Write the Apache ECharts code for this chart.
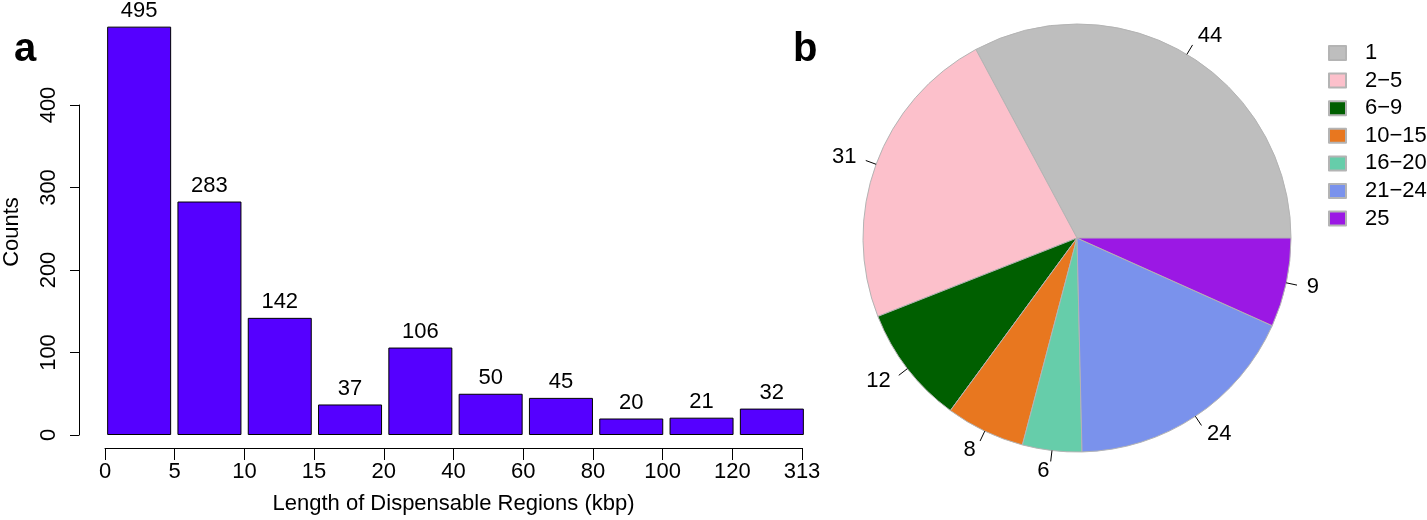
<!DOCTYPE html>
<html>
<head>
<meta charset="utf-8">
<script src="https://cdn.jsdelivr.net/npm/echarts@6/dist/echarts.min.js"></script>
<style>html,body{margin:0;padding:0;background:#fff}#c{width:1427px;height:520px}</style>
</head>
<body>
<div id="c"></div>
<script>
// ---- data ----
var barCategories = ['0-5','5-10','10-15','15-20','20-40','40-60','60-80','80-100','100-120','120-313'];
var barValues = [495, 283, 142, 37, 106, 50, 45, 20, 21, 32];
var xTickLabels = ['0','5','10','15','20','40','60','80','100','120','313'];
var yTicks = [0, 100, 200, 300, 400];
var pieNames = ['1', '2\u22125', '6\u22129', '10\u221215', '16\u221220', '21\u221224', '25'];
var pieValues = [44, 31, 12, 8, 6, 24, 9];
var pieColors = ['#BEBEBE', '#FCC0CB', '#005F00', '#E8771F', '#66CDAA', '#7A92EC', '#9B18E4'];

var FONT = 'Liberation Sans, Arial, Helvetica, sans-serif';
var FS = 22;
var chart = echarts.init(document.getElementById('c'), null, {renderer: 'canvas'});

var pieData = pieNames.map(function (n, i) { return {name: n, value: pieValues[i]}; });

chart.setOption({
  backgroundColor: '#ffffff',
  animation: false,
  textStyle: {fontFamily: FONT, color: '#000'},
  title: [
    {text: 'a', left: 9, top: 25, textStyle: {fontFamily: FONT, fontSize: 40, fontWeight: 'bold', color: '#000'}},
    {text: 'b', left: 788, top: 25, textStyle: {fontFamily: FONT, fontSize: 40, fontWeight: 'bold', color: '#000'}}
  ],
  legend: {
    orient: 'vertical', left: 1323, top: 37,
    itemWidth: 17, itemHeight: 14, itemGap: 5.6,
    icon: 'rect',
    data: pieNames,
    textStyle: {fontFamily: FONT, fontSize: FS, color: '#000', padding: [0, 0, 0, 14]}
  },
  grid: [
    {left: 103, width: 704, top: 105, bottom: 85, containLabel: false},
    {left: 105, width: 697, top: 105, bottom: 85, containLabel: false}
  ],
  xAxis: [
    {type: 'category', gridIndex: 0, data: barCategories, show: false, boundaryGap: true},
    {type: 'value', gridIndex: 1, min: 0, max: xTickLabels.length - 1, interval: 1,
     position: 'bottom', offset: 16,
     axisLine: {show: true, onZero: false, lineStyle: {color: '#000', width: 1}},
     axisTick: {show: true, length: 12, lineStyle: {color: '#000', width: 1}},
     splitLine: {show: false},
     axisLabel: {margin: 13, fontSize: FS, color: '#000', fontFamily: FONT,
       formatter: function (v) { return xTickLabels[Math.round(v)]; }},
     name: 'Length of Dispensable Regions (kbp)', nameLocation: 'middle', nameGap: 45,
     nameTextStyle: {fontSize: FS, color: '#000', fontFamily: FONT}}
  ],
  yAxis: [
    {type: 'value', gridIndex: 0, min: yTicks[0], max: yTicks[yTicks.length - 1], interval: 100,
     offset: 25,
     axisLine: {show: true, onZero: false, lineStyle: {color: '#000', width: 1}},
     axisTick: {show: true, length: 9, lineStyle: {color: '#000', width: 1}},
     splitLine: {show: false},
     axisLabel: {rotate: 90, margin: 19, fontSize: FS, color: '#000', fontFamily: FONT},
     name: 'Counts', nameLocation: 'middle', nameGap: 56,
     nameTextStyle: {fontSize: FS, color: '#000', fontFamily: FONT, padding: [0, 0, 0, 76]}},
    {type: 'value', gridIndex: 1, show: false, min: 0, max: 400}
  ],
  series: [
    {
      type: 'bar', xAxisIndex: 0, yAxisIndex: 0,
      data: barValues, barWidth: 64, clip: false,
      itemStyle: {color: '#5500FF', borderColor: '#000', borderWidth: 1},
      label: {show: true, position: 'top', distance: 5, fontSize: FS, color: '#000', fontFamily: FONT}
    },
    {
      // slices + value labels placed at 1.1 r
      type: 'pie', center: [1077, 238], radius: 214,
      startAngle: 0, clockwise: false, avoidLabelOverlap: false,
      data: pieData,
      color: pieColors,
      itemStyle: {borderColor: '#B4B4B4', borderWidth: 1},
      label: {show: true, position: 'outside', formatter: '{c}', fontSize: FS, color: '#000',
              fontFamily: FONT, distanceToLabelLine: 0},
      labelLine: {show: false, length: 21, length2: 0},
      labelLayout: {hideOverlap: false},
      emphasis: {disabled: true}
    },
    {
      // short tick lines from r to 1.05 r
      type: 'pie', center: [1077, 238], radius: 214, z: 5,
      startAngle: 0, clockwise: false, avoidLabelOverlap: false, silent: true,
      data: pieData,
      color: pieColors,
      itemStyle: {color: 'rgba(0,0,0,0)', borderWidth: 0},
      label: {show: true, position: 'outside', formatter: '.', fontSize: 2, color: 'rgba(0,0,0,0)',
              fontFamily: FONT, distanceToLabelLine: 0},
      labelLine: {show: true, length: 11, length2: 0, smooth: false, lineStyle: {color: '#000', width: 1}},
      labelLayout: {hideOverlap: false},
      emphasis: {disabled: true}
    }
  ]
});
</script>
</body>
</html>
